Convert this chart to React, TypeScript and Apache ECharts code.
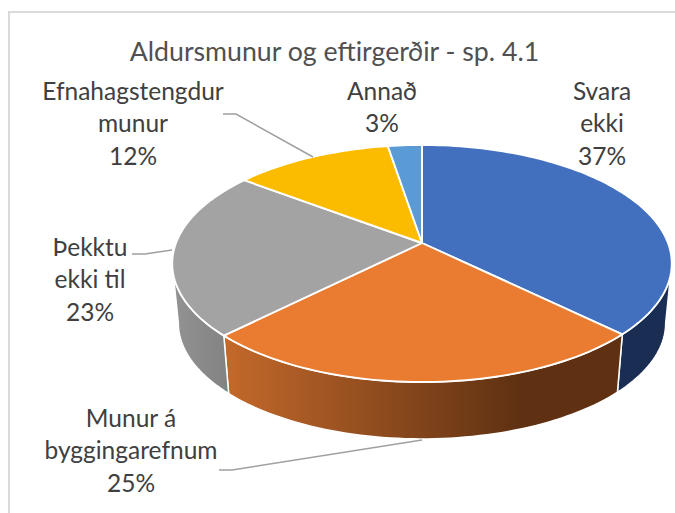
import React, { useEffect, useRef } from "react";
import * as echarts from "echarts";

const titleText = "Aldursmunur og eftirgerðir - sp. 4.1";
const categories = ["Svara\nekki", "Munur á\nbyggingarefnum", "Þekktu\nekki til", "Efnahagstengdur\nmunur", "Annað"];
const shares = [37.3, 25.2, 22.8, 12.1, 2.6];
const topColors = ["#4270BF", "#E97C30", "#A3A3A3", "#FBBC00", "#5B9BD5"];
const wallStops: [string, string, number][] = [
  ["#1A2D52", "#1A2D52", 1],
  ["#C4692B", "#5F3112", 0.74],
  ["#939393", "#828282", 1],
  ["#7F6000", "#7F6000", 1],
  ["#2F5F8F", "#2F5F8F", 1],
];

const W = 675;
const H = 513;
const CX = 422;
const K = 0.173;
const TOP = { a: 246, b: 115, y0: 243 };
const BOTTOM = { a: 240, b: 112.4, y0: 303 };
const WALL_FROM = 100;
const WALL_TO = 260;

const labelPos = [
  [602, 74],
  [131, 401],
  [90, 230],
  [133, 74],
  [382, 74],
];
const leaders = [
  [[223, 114], [236, 114], [313, 157]],
  [[219, 470], [232, 470], [422, 440]],
  [[132, 254], [145, 254], [172, 250]],
];

const cum: number[] = [];
shares.reduce((acc, v) => {
  cum.push(acc);
  return acc + v;
}, 0);
const total = shares.reduce((a, b) => a + b, 0);

function project(p: { a: number; b: number; y0: number }, deg: number): number[] {
  const t = (deg * Math.PI) / 180;
  const u = Math.sin(t);
  const v = -Math.cos(t);
  const w = 1 - K * v;
  return [CX + (p.a * u) / w, p.y0 + (p.b * v) / w];
}

function arcPoints(p: { a: number; b: number; y0: number }, from: number, to: number): number[][] {
  const n = Math.max(2, Math.ceil((to - from) / 1.5));
  const out: number[][] = [];
  for (let i = 0; i <= n; i++) out.push(project(p, from + ((to - from) * i) / n));
  return out;
}

export default function App() {
  const ref = useRef<HTMLDivElement>(null);
  useEffect(() => {
    document.body.style.margin = "0";
    const chart = echarts.init(ref.current!, undefined, { renderer: "svg" });
    const seriesData = shares.map((v, i) => ({ value: [i, cum[i], v], name: categories[i] }));

    const renderWall = (_: any, api: any) => {
      const i = api.value(0);
      const from = Math.max((api.value(1) / total) * 360, WALL_FROM);
      const to = Math.min(((api.value(1) + api.value(2)) / total) * 360, WALL_TO);
      if (to <= from) return null;
      const pts = [...arcPoints(TOP, from, to), ...arcPoints(BOTTOM, from, to).reverse()];
      const [c0, c1, stop] = wallStops[i];
      return {
        type: "polygon",
        shape: { points: pts },
        style: {
          fill: new echarts.graphic.LinearGradient(0, 0, 1, 0, [
            { offset: 0, color: c0 },
            { offset: stop, color: c1 },
            { offset: 1, color: c1 },
          ]),
          stroke: "#fff",
          lineWidth: 1.5,
        },
      };
    };

    const renderTop = (_: any, api: any) => {
      const i = api.value(0);
      const from = (api.value(1) / total) * 360;
      const to = ((api.value(1) + api.value(2)) / total) * 360;
      return {
        type: "polygon",
        shape: { points: [[CX, TOP.y0], ...arcPoints(TOP, from, to)] },
        style: { fill: topColors[i], stroke: "#fff", lineWidth: 1.9, lineJoin: "round" },
      };
    };

    chart.setOption({
      animation: false,
      backgroundColor: "#fff",
      title: {
        text: titleText,
        left: 329.5,
        top: 32,
        textAlign: "center",
        textStyle: { fontFamily: "Lato", fontSize: 26.7, fontWeight: "normal", color: "#505050" },
      },
      series: [
        { type: "custom", coordinateSystem: "none", z: 2, silent: true, data: seriesData, renderItem: renderWall },
        { type: "custom", coordinateSystem: "none", z: 3, silent: true, data: seriesData, renderItem: renderTop },
      ],
      graphic: [
        {
          type: "polyline",
          shape: { points: [[9, H], [9, 12], [W, 12]] },
          style: { fill: "none", stroke: "#D9D9D9", lineWidth: 2 },
        },
        ...leaders.map((points) => ({
          type: "polyline",
          z: 5,
          shape: { points },
          style: { fill: "none", stroke: "#A0A0A0", lineWidth: 1.5 },
        })),
        ...categories.map((name, i) => ({
          type: "text",
          z: 6,
          x: labelPos[i][0],
          y: labelPos[i][1],
          style: {
            text: `${name}\n${Math.round(shares[i])}%`,
            fontFamily: "Lato",
            fontSize: 24.5,
            lineHeight: 32.5,
            fill: "#404040",
            align: "center",
            verticalAlign: "top",
          },
        })),
      ],
    });
    return () => chart.dispose();
  }, []);
  return <div ref={ref} style={{ position: "absolute", left: 0, top: 0, width: W, height: H }} />;
}
